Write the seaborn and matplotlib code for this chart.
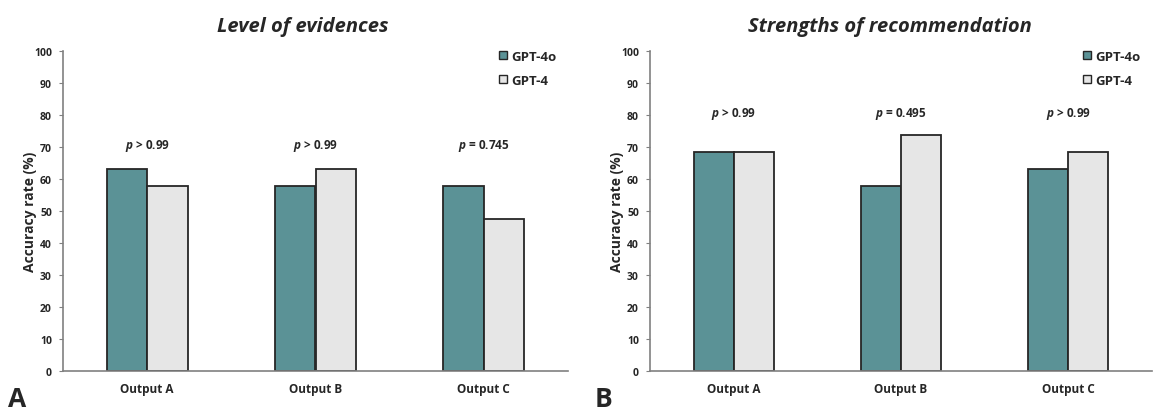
import pandas as pd
import seaborn as sns
import matplotlib.pyplot as plt
from matplotlib.lines import Line2D

# data
outputs = ['Output A', 'Output B', 'Output C']
models = ['GPT-4o', 'GPT-4']
evidence_gpt4o = [63.2, 57.9, 57.9]
evidence_gpt4 = [57.9, 63.2, 47.4]
recommend_gpt4o = [68.4, 57.9, 63.2]
recommend_gpt4 = [68.4, 73.7, 68.4]
evidence_p = ['> 0.99', '> 0.99', '= 0.745']
recommend_p = ['> 0.99', '= 0.495', '> 0.99']

colors = {'GPT-4o': '#5b9296', 'GPT-4': '#e6e6e6'}
edge = '#262626'

sns.set_style('white')
plt.rcParams['font.family'] = ['Open Sans', 'DejaVu Sans']
plt.rcParams['mathtext.fontset'] = 'custom'
plt.rcParams['mathtext.it'] = 'Open Sans:bold:italic'
plt.rcParams['mathtext.rm'] = 'Open Sans:bold'


def make_df(a, b):
    return pd.DataFrame({
        'output': outputs * 2,
        'model': [models[0]] * 3 + [models[1]] * 3,
        'acc': a + b,
    })


def draw(ax, df, pvals, p_y):
    sns.barplot(data=df, x='output', y='acc', hue='model', hue_order=models,
                palette=colors, width=0.48, edgecolor=edge, linewidth=1.3,
                saturation=1, legend=False, ax=ax)
    ax.set_xlim(-0.5, 2.5)
    ax.set_ylim(0, 100)
    ax.set_yticks(range(0, 101, 10))
    ax.set_xlabel('')
    ax.set_ylabel('Accuracy rate (%)', fontsize=10, fontweight='bold')
    ax.yaxis.set_label_coords(-0.052, 0.5)
    for lbl in ax.get_yticklabels():
        lbl.set_fontweight('bold')
        lbl.set_fontsize(7.5)
    for lbl in ax.get_xticklabels():
        lbl.set_fontweight('bold')
        lbl.set_fontsize(8.5)
    ax.tick_params(axis='y', length=3, width=0.8, color='#808080', pad=5, left=True)
    ax.tick_params(axis='x', length=0, pad=8)
    sns.despine(ax=ax)
    for s in ['left', 'bottom']:
        ax.spines[s].set_color('#808080')
        ax.spines[s].set_linewidth(1.2)
    for i, p in enumerate(pvals):
        ax.text(i, p_y, r'$p$ ' + p, ha='center', va='center',
                fontsize=8.5, fontweight='bold')
    handles = [Line2D([], [], marker='s', linestyle='', markersize=6,
                      markerfacecolor=colors[m], markeredgecolor=edge,
                      markeredgewidth=1.0) for m in models]
    ax.legend(handles, models, loc='upper right', bbox_to_anchor=(1.0, 1.04),
              frameon=False, handletextpad=0.2, labelspacing=0.8,
              prop={'weight': 'bold', 'size': 9.5}, handlelength=0.8)


fig = plt.figure(figsize=(11.53, 4.14), dpi=100)
ax1 = fig.add_axes([63 / 1153, 42 / 414, 505 / 1153, 320 / 414])
ax2 = fig.add_axes([650 / 1153, 42 / 414, 502 / 1153, 320 / 414])

draw(ax1, make_df(evidence_gpt4o, evidence_gpt4), evidence_p, 70.5)
draw(ax2, make_df(recommend_gpt4o, recommend_gpt4), recommend_p, 80.5)

fig.text(303 / 1153, 1 - 27 / 414, 'Level of evidences', ha='center', va='center',
         fontsize=14.5, fontweight='bold', style='italic')
fig.text(890 / 1153, 1 - 27 / 414, 'Strengths of recommendation', ha='center',
         va='center', fontsize=14.5, fontweight='bold', style='italic')
fig.text(8 / 1153, 1 / 414, 'A', ha='left', va='bottom', fontsize=19,
         fontweight='bold')
fig.text(595 / 1153, 1 / 414, 'B', ha='left', va='bottom', fontsize=19,
         fontweight='bold')

fig.savefig('out.png', dpi=100)
